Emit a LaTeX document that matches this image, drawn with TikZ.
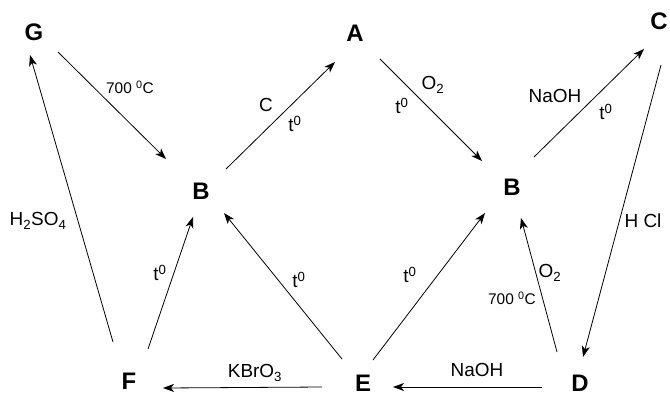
\documentclass[tikz,border=0pt]{standalone}
\usepackage{fontspec}
\setmainfont{Liberation Sans}
\usetikzlibrary{arrows.meta,calc}
\begin{document}
\begin{tikzpicture}[x=1bp,y=-1bp,
  sp/.style={font=\bfseries\fontsize{24}{24}\selectfont, inner sep=0pt},
  lab/.style={font=\fontsize{19}{19}\selectfont, inner sep=0pt},
  slab/.style={font=\fontsize{15.5}{15.5}\selectfont, inner sep=0pt},
  arr/.style={-{Stealth[length=11bp,width=8bp,inset=3bp]}, line width=0.8bp}]
\useasboundingbox (0,0) rectangle (670,396);
% species
\node[sp] (G)  at (34,32)   {G};
\node[sp] (A)  at (355,33)  {A};
\node[sp] (C)  at (659,21)  {C};
\node[sp] (B1) at (201,191) {B};
\node[sp] (B2) at (512,187) {B};
\node[sp] (F)  at (129,381) {F};
\node[sp] (E)  at (363,383) {E};
\node[sp] (D)  at (580,383) {D};
% connectors
\draw[arr] ($(G)+(24,20)$)   -- ($(B1)+(-35,-32)$);
\draw[arr] ($(B1)+(25,-22)$) -- ($(A)+(-20,29)$);
\draw[arr] ($(A)+(25,26)$)   -- ($(B2)+(-30,-26)$);
\draw[arr] ($(B2)+(22,-30)$) -- ($(C)+(-15,28)$);
\draw[arr] ($(C)+(2,44)$)    -- ($(D)+(3,-26)$);
\draw[arr] ($(D)+(-23,-31)$) -- ($(B2)+(9,31)$);
\draw[arr] ($(E)+(10,-23)$)  -- ($(B2)+(-27,26)$);
\draw[arr] ($(E)+(-21,-24)$) -- ($(B1)+(23,22)$);
\draw[arr] ($(F)+(19,-32)$)  -- ($(B1)+(-8,26)$);
\draw[arr] ($(F)+(-16,-39)$) -- ($(G)+(-4,23)$);
\draw[arr] ($(D)+(-38,4)$)   -- ($(E)+(30,4)$);
\draw[arr] ($(E)+(-41,4)$)   -- ($(F)+(34,7)$);
% labels
\node[slab] (l1)  at (130,87)  {700 \textsuperscript{0}C};
\node[lab]  (l2)  at (266,105) {C};
\node[lab]  (l3)  at (295,124) {t\textsuperscript{0}};
\node[lab]  (l4)  at (433,85)  {O\textsubscript{2}};
\node[lab]  (l5)  at (402,106) {t\textsuperscript{0}};
\node[lab]  (l6)  at (555,96)  {NaOH};
\node[lab]  (l7)  at (606,112) {t\textsuperscript{0}};
\node[lab]  (l8)  at (643,221) {H Cl};
\node[lab]  (l9)  at (550,273) {O\textsubscript{2}};
\node[slab] (l10) at (512,298) {700 \textsuperscript{0}C};
\node[lab]  (l11) at (477,370) {NaOH};
\node[lab]  (l12) at (255,373) {KBrO\textsubscript{3}};
\node[lab]  (l13) at (299,280) {t\textsuperscript{0}};
\node[lab]  (l14) at (410,275) {t\textsuperscript{0}};
\node[lab]  (l15) at (160,273) {t\textsuperscript{0}};
\node[lab]  (l16) at (38,221)  {H\textsubscript{2}SO\textsubscript{4}};
\end{tikzpicture}
\end{document}
